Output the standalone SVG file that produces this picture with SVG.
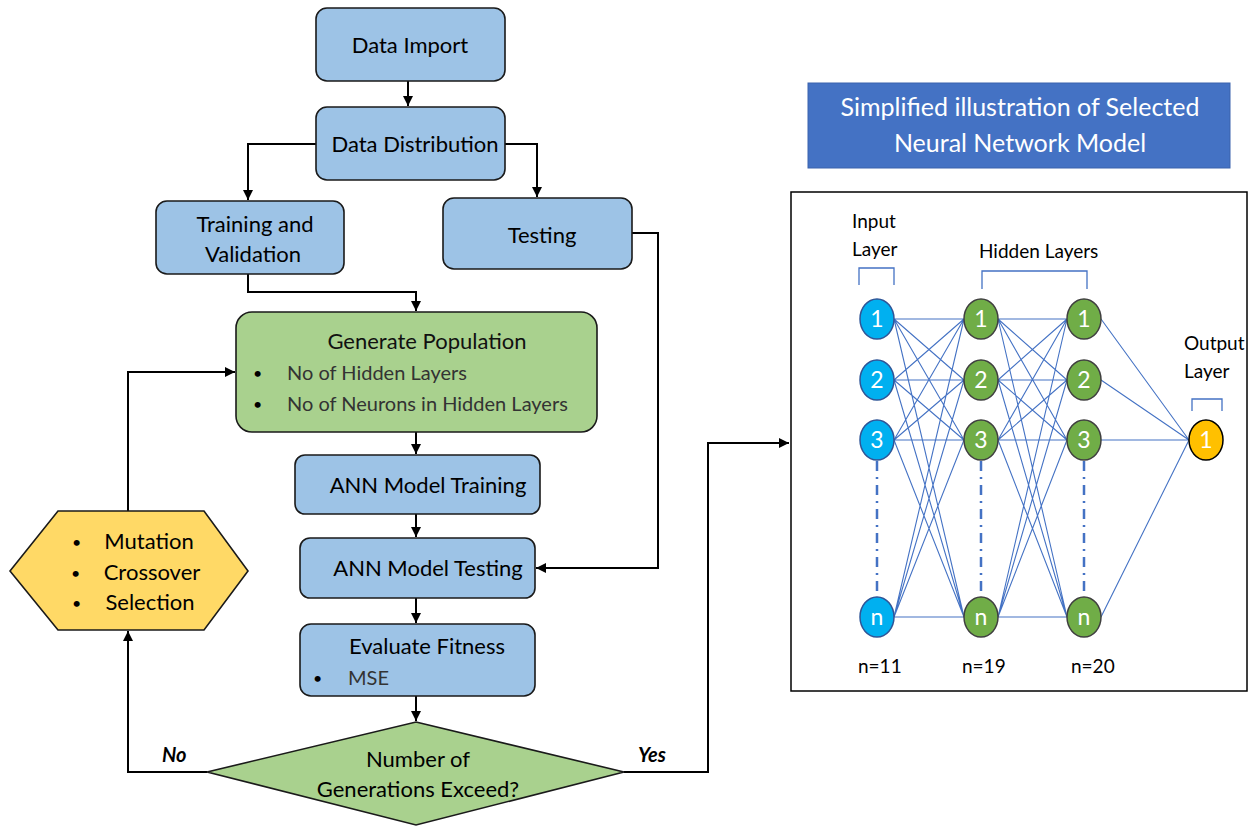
<svg xmlns="http://www.w3.org/2000/svg" width="1255" height="826" viewBox="0 0 1255 826">
<style>
.box{fill:#9DC3E6;stroke:#1a1a1a;stroke-width:1.6}
.green{fill:#A9D18E;stroke:#1a1a1a;stroke-width:1.6}
.hex{fill:#FFD966;stroke:#1a1a1a;stroke-width:1.6}
.t{font-family:Lato,"Open Sans",sans-serif;font-size:22px;fill:#000;text-anchor:middle}
.b{font-family:Lato,"Open Sans",sans-serif;font-size:20px;fill:#333}
.dot{font-family:Lato,"Open Sans",sans-serif;font-size:16px;fill:#000}
.lbl{font-family:Lato,"Open Sans",sans-serif;font-size:20px;font-weight:bold;font-style:italic;fill:#000}
.con{fill:none;stroke:#000;stroke-width:2}
.nn{stroke:#4472C4;stroke-width:1.1;fill:none}
.dash{stroke:#4472C4;stroke-width:2.5;stroke-dasharray:10 6 2 6;fill:none}
.br{stroke:#4472C4;stroke-width:1.3;fill:none}
.in{fill:#00B0F0;stroke:#2F5597;stroke-width:1.5}
.hid{fill:#70AD47;stroke:#404040;stroke-width:1.5}
.out{fill:#FFC000;stroke:#000;stroke-width:1.5}
.nt{font-family:Lato,"Open Sans",sans-serif;font-size:23px;fill:#fff;text-anchor:middle}
.nl{font-family:Lato,"Open Sans",sans-serif;font-size:19px;fill:#000}
</style>
<defs>
<marker id="ah" viewBox="0 0 10 10" refX="10" refY="5" markerWidth="5" markerHeight="5" orient="auto-start-reverse">
<path d="M0,0 L10,5 L0,10 z" fill="#000"/>
</marker>
</defs>
<rect width="1255" height="826" fill="#fff"/>

<g id="connectors">
<path class="con" d="M408,81 V106" marker-end="url(#ah)"/>
<path class="con" d="M316,144 H248 V200" marker-end="url(#ah)"/>
<path class="con" d="M505,144 H537 V197" marker-end="url(#ah)"/>
<path class="con" d="M248,274 V292 H416 V311" marker-end="url(#ah)"/>
<path class="con" d="M632,233 H658 V568 H536" marker-end="url(#ah)"/>
<path class="con" d="M416,432 V454" marker-end="url(#ah)"/>
<path class="con" d="M416,514 V537" marker-end="url(#ah)"/>
<path class="con" d="M416,598 V623" marker-end="url(#ah)"/>
<path class="con" d="M416,696 V721" marker-end="url(#ah)"/>
<path class="con" d="M207,772 H128 V631" marker-end="url(#ah)"/>
<path class="con" d="M128,511 V372 H235" marker-end="url(#ah)"/>
<path class="con" d="M624,772 H708 V443 H789" marker-end="url(#ah)"/>
<text class="lbl" x="162" y="762">No</text>
<text class="lbl" x="638" y="762">Yes</text>
</g>

<g id="data-import">
<rect class="box" x="316" y="8" width="189" height="73" rx="11"/>
<text class="t" x="410" y="53">Data Import</text>
</g>
<g id="data-distribution">
<rect class="box" x="316" y="107" width="189" height="73" rx="11"/>
<text class="t" x="415" y="152">Data Distribution</text>
</g>
<g id="training-validation">
<rect class="box" x="156" y="201" width="188" height="73" rx="11"/>
<text class="t" x="255" y="232">Training and</text>
<text class="t" x="253" y="262">Validation</text>
</g>
<g id="testing">
<rect class="box" x="443" y="198" width="189" height="71" rx="11"/>
<text class="t" x="542" y="243">Testing</text>
</g>
<g id="generate-population">
<rect class="green" x="236" y="312" width="361" height="120" rx="16"/>
<text class="t" x="427" y="349" style="fill:#111">Generate Population</text>
<text class="dot" x="253" y="379">•</text>
<text class="b" x="287" y="380">No of Hidden Layers</text>
<text class="dot" x="253" y="410">•</text>
<text class="b" x="287" y="411">No of Neurons in Hidden Layers</text>
</g>
<g id="ann-training">
<rect class="box" x="295" y="455" width="245" height="59" rx="10"/>
<text class="t" x="428" y="493">ANN Model Training</text>
</g>
<g id="ann-testing">
<rect class="box" x="300" y="538" width="235" height="60" rx="10"/>
<text class="t" x="428" y="576">ANN Model Testing</text>
</g>
<g id="evaluate-fitness">
<rect class="box" x="300" y="624" width="235" height="72" rx="11"/>
<text class="t" x="427" y="654">Evaluate Fitness</text>
<text class="dot" x="313" y="684">•</text>
<text class="b" x="348" y="685">MSE</text>
</g>
<g id="decision">
<polygon class="green" points="416,722 624,772 416,825 207,772"/>
<text class="t" x="418" y="767">Number of</text>
<text class="t" x="418" y="797">Generations Exceed?</text>
</g>
<g id="ga-operators">
<polygon class="hex" points="10,571 58,511 204,511 248,571 204,630 58,630"/>
<text class="dot" x="72" y="548">•</text>
<text class="t" x="149" y="549">Mutation</text>
<text class="dot" x="71" y="579">•</text>
<text class="t" x="152" y="580">Crossover</text>
<text class="dot" x="72" y="609">•</text>
<text class="t" x="150" y="610">Selection</text>
</g>

<g id="nn-title">
<rect x="808" y="83" width="422" height="85" fill="#4472C4" stroke="#3A63AD" stroke-width="1"/>
<text class="t" x="1020" y="116" style="fill:#fff;font-size:25px">Simplified illustration of Selected</text>
<text class="t" x="1020" y="152" style="fill:#fff;font-size:25px">Neural Network Model</text>
</g>

<g id="nn-panel">
<rect x="791" y="192" width="456" height="499" fill="#fff" stroke="#000" stroke-width="1.5"/>
<text class="nl" x="852" y="228">Input</text>
<text class="nl" x="852" y="256">Layer</text>
<text class="nl" x="979" y="258">Hidden Layers</text>
<text class="nl" x="1184" y="350">Output</text>
<text class="nl" x="1184" y="378">Layer</text>
<path class="br" d="M859,285 V268 H894 V285"/>
<path class="br" d="M982,289 V271 H1087 V289"/>
<path class="br" d="M1192,411 V399 H1222 V411"/>
<text class="nl" x="858" y="673">n=11</text>
<text class="nl" x="962" y="673">n=19</text>
<text class="nl" x="1071" y="673">n=20</text>
</g>

<g id="nn-edges">
<path class="nn" d="M894,319 L964,319 M894,319 L964,380 M894,319 L964,440 M894,319 L964,617
M894,380 L964,319 M894,380 L964,380 M894,380 L964,440 M894,380 L964,617
M894,440 L964,319 M894,440 L964,380 M894,440 L964,440 M894,440 L964,617
M894,617 L964,319 M894,617 L964,380 M894,617 L964,440 M894,617 L964,617
M998,319 L1067,319 M998,319 L1067,380 M998,319 L1067,440 M998,319 L1067,617
M998,380 L1067,319 M998,380 L1067,380 M998,380 L1067,440 M998,380 L1067,617
M998,440 L1067,319 M998,440 L1067,380 M998,440 L1067,440 M998,440 L1067,617
M998,617 L1067,319 M998,617 L1067,380 M998,617 L1067,440 M998,617 L1067,617
M1101,319 L1189,440 M1101,380 L1189,440 M1101,440 L1189,440 M1101,617 L1189,440"/>
<path class="dash" d="M877,461 V597 M981,461 V597 M1084,461 V597"/>
</g>

<g id="input-layer">
<ellipse class="in" cx="877" cy="319" rx="17" ry="20"/><text class="nt" x="877" y="327">1</text>
<ellipse class="in" cx="877" cy="380" rx="17" ry="20"/><text class="nt" x="877" y="388">2</text>
<ellipse class="in" cx="877" cy="440" rx="17" ry="20"/><text class="nt" x="877" y="448">3</text>
<ellipse class="in" cx="877" cy="617" rx="17" ry="20"/><text class="nt" x="877" y="625">n</text>
</g>
<g id="hidden-layer-1">
<ellipse class="hid" cx="981" cy="319" rx="17" ry="20"/><text class="nt" x="981" y="327">1</text>
<ellipse class="hid" cx="981" cy="380" rx="17" ry="20"/><text class="nt" x="981" y="388">2</text>
<ellipse class="hid" cx="981" cy="440" rx="17" ry="20"/><text class="nt" x="981" y="448">3</text>
<ellipse class="hid" cx="981" cy="617" rx="17" ry="20"/><text class="nt" x="981" y="625">n</text>
</g>
<g id="hidden-layer-2">
<ellipse class="hid" cx="1084" cy="319" rx="17" ry="20"/><text class="nt" x="1084" y="327">1</text>
<ellipse class="hid" cx="1084" cy="380" rx="17" ry="20"/><text class="nt" x="1084" y="388">2</text>
<ellipse class="hid" cx="1084" cy="440" rx="17" ry="20"/><text class="nt" x="1084" y="448">3</text>
<ellipse class="hid" cx="1084" cy="617" rx="17" ry="20"/><text class="nt" x="1084" y="625">n</text>
</g>
<g id="output-layer">
<ellipse class="out" cx="1206" cy="440" rx="17" ry="20"/><text class="nt" x="1206" y="448">1</text>
</g>
</svg>
